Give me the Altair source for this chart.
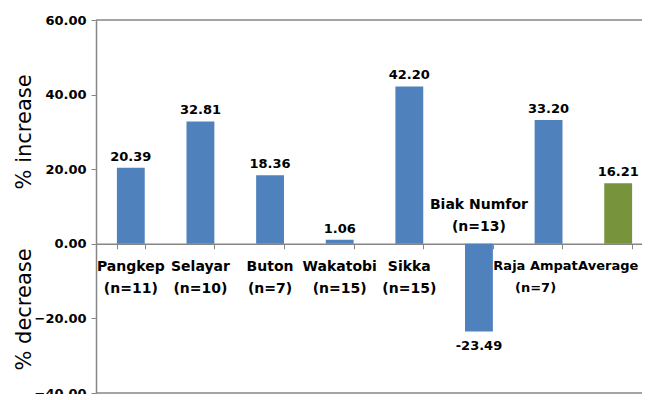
import altair as alt
import pandas as pd

sites = ["Pangkep", "Selayar", "Buton", "Wakatobi", "Sikka", "Biak Numfor", "Raja Ampat", "Average"]
sample_sizes = ["(n=11)", "(n=10)", "(n=7)", "(n=15)", "(n=15)", "(n=13)", "(n=7)", ""]
values = [20.39, 32.81, 18.36, 1.06, 42.20, -23.49, 33.20, 16.21]
kinds = ["site", "site", "site", "site", "site", "site", "site", "average"]
y_ticks = [-40, -20, 0, 20, 40, 60]

df = pd.DataFrame({
    "site": sites,
    "value": values,
    "kind": kinds,
    "cat": [s + ("\n" + n if n else "") for s, n in zip(sites, sample_sizes)],
    "vlabel": [f"{v:.2f}" for v in values],
})

GRAY = "#868686"
FONT = "DejaVu Sans"
W, H = 546, 373
X_RANGE = 557
ZERO_FROM_BOTTOM = H * 40 / 100

x_scale = alt.Scale(paddingInner=0.6, paddingOuter=0.3, range=[0, X_RANGE])
x_enc = alt.X(
    "site:N", sort=sites, scale=x_scale,
    axis=alt.Axis(labels=False, title=None, tickBand="extent", tickSize=5,
                  tickColor=GRAY, domainColor=GRAY, domainWidth=1.5,
                  offset=-ZERO_FROM_BOTTOM),
)
x_plain = alt.X("site:N", sort=sites, scale=x_scale)
y_scale = alt.Scale(domain=[-40, 60], nice=False)
y_enc = alt.Y(
    "value:Q", scale=y_scale,
    axis=alt.Axis(values=y_ticks, format=".2f", title=None, grid=False,
                  labelFont=FONT, labelFontWeight="bold", labelFontSize=13,
                  labelColor="black", labelPadding=5, tickSize=5,
                  tickColor=GRAY, domainColor=GRAY, domainWidth=1.5),
)

base = alt.Chart(df)

bars = base.mark_bar().encode(
    x=x_enc, y=y_enc,
    color=alt.Color("kind:N", scale=alt.Scale(domain=["site", "average"],
                                              range=["#4F81BD", "#77933C"]), legend=None),
)

val_pos = base.transform_filter("datum.value >= 0").mark_text(
    baseline="bottom", dy=-4, font=FONT, fontWeight="bold", fontSize=13, color="black"
).encode(x=x_plain, y=alt.Y("value:Q", scale=y_scale), text="vlabel:N")

val_neg = base.transform_filter("datum.value < 0").mark_text(
    baseline="top", dy=9, font=FONT, fontWeight="bold", fontSize=13, color="black"
).encode(x=x_plain, y=alt.Y("value:Q", scale=y_scale), text="vlabel:N")

cat_style = dict(lineBreak="\n", lineHeight=22, font=FONT, fontWeight="bold",
                 color="black")

cat_below = base.transform_filter(
    "datum.value >= 0 && datum.site != 'Raja Ampat' && datum.site != 'Average'"
).mark_text(baseline="top", dy=16, fontSize=14, **cat_style).encode(
    x=x_plain, y=alt.datum(0), text="cat:N")

cat_raja = base.transform_filter("datum.site == 'Raja Ampat'").mark_text(
    baseline="top", dy=16, dx=-13, fontSize=13, **cat_style).encode(
    x=x_plain, y=alt.datum(0), text="cat:N")

cat_avg = base.transform_filter("datum.site == 'Average'").mark_text(
    baseline="top", dy=16, dx=-10, fontSize=13, **cat_style).encode(
    x=x_plain, y=alt.datum(0), text="cat:N")

cat_above = base.transform_filter("datum.value < 0").mark_text(
    baseline="bottom", dy=-32, fontSize=14, **cat_style).encode(
    x=x_plain, y=alt.datum(0), text="cat:N")

frame = alt.Chart(pd.DataFrame({"v": [60, -40]})).mark_rule(
    color=GRAY, strokeWidth=1.5
).encode(y=alt.Y("v:Q", scale=y_scale))

titles = alt.Chart(pd.DataFrame({
    "t": ["% increase", "% decrease"], "yv": [30.0, -17.6]
})).mark_text(angle=270, font=FONT, fontSize=21, color="black",
              baseline="middle", align="center").encode(
    x=alt.value(-71), y=alt.Y("yv:Q", scale=y_scale), text="t:N"
)

chart = alt.layer(frame, bars, val_pos, val_neg, cat_below, cat_raja, cat_avg,
                  cat_above, titles).properties(
    width=W, height=H,
    autosize=alt.AutoSizeParams(type="none"),
    padding={"left": 88, "top": 12, "right": 0, "bottom": 1},
).configure_view(strokeWidth=0)

chart.save("out.html", embed_options={"renderer": "svg", "actions": False})
